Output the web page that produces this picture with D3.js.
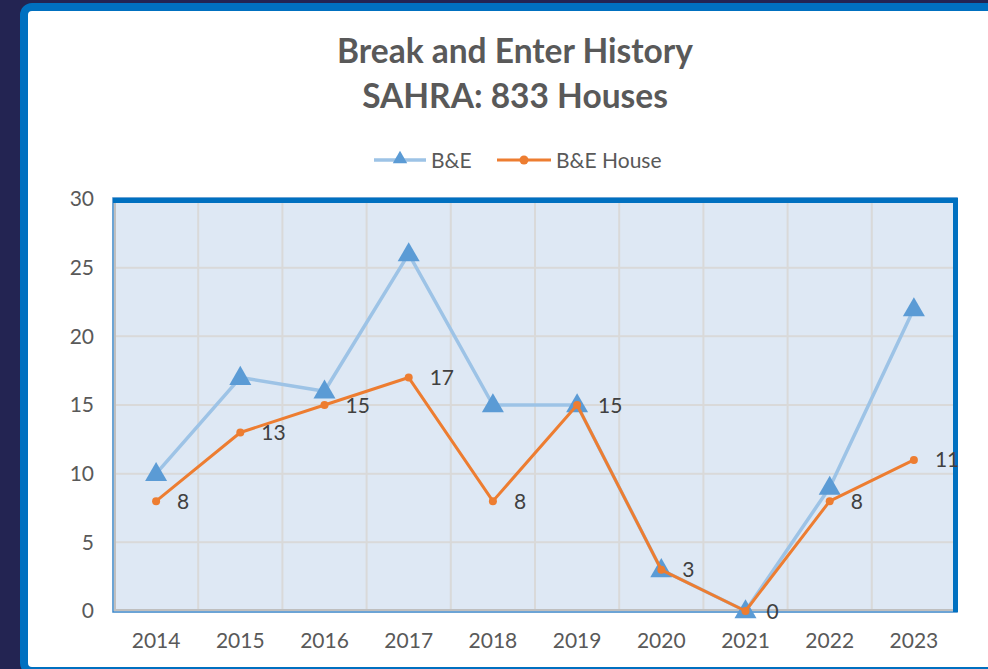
<!DOCTYPE html>
<html>
<head>
<meta charset="utf-8">
<script src="https://cdn.jsdelivr.net/npm/d3@7"></script>
<style>
  html, body { margin: 0; padding: 0; background: #232452; }
  svg { display: block; }
</style>
</head>
<body>
<div class="chart"></div>
<script>
// chart data
let years = ['2014', '2015', '2016', '2017', '2018', '2019', '2020', '2021', '2022', '2023'];
let breakEnter = [10, 17, 16, 26, 15, 15, 3, 0, 9, 22];
let breakEnterHouse = [8, 13, 15, 17, 8, 15, 3, 0, 8, 11];
let yTicks = [0, 5, 10, 15, 20, 25, 30];
let titleLines = ['Break and Enter History', 'SAHRA: 833 Houses'];
let seriesNames = ['B&E', 'B&E House'];

let config = {
  width: 988,
  height: 669,
  font: 'Lato, "Noto Sans", sans-serif',
  fontSize: '21px',
  textColor: '#595959',
  gridColor: '#D9D9D9',
  plotFill: '#DEE8F4',
  frameBlue: '#0070C0',
  lightBlue: '#9DC3E6',
  markerBlue: '#5B9BD5',
  orange: '#ED7D31'
}

let svg = d3.select('div.chart').append('svg')
  .attr('width', config.width)
  .attr('height', config.height);

// outer panel
svg.append('rect')
  .attr('x', 24).attr('y', 7)
  .attr('width', 1000).attr('height', 664)
  .attr('rx', 8)
  .attr('fill', '#fff')
  .attr('stroke', config.frameBlue)
  .attr('stroke-width', 8);

let plot = {left: 114, right: 956, top: 199, bottom: 611};

let x = d3.scaleBand()
  .domain(years)
  .range([plot.left, plot.right]);

let y = d3.scaleLinear()
  .domain([0, 30])
  .range([plot.bottom, plot.top]);

let cx = d => x(d) + x.bandwidth() / 2;

// plot background
svg.append('rect')
  .attr('x', plot.left).attr('y', plot.top)
  .attr('width', plot.right - plot.left).attr('height', plot.bottom - plot.top)
  .attr('fill', config.plotFill);

// grid
svg.append('g').selectAll('line')
  .data(yTicks.filter(d => d > 0 && d < 30))
  .enter().append('line')
  .attr('x1', plot.left).attr('x2', plot.right)
  .attr('y1', d => y(d)).attr('y2', d => y(d))
  .attr('stroke', config.gridColor)
  .attr('stroke-width', 2);

svg.append('g').selectAll('line')
  .data(years.slice(1))
  .enter().append('line')
  .attr('x1', d => x(d)).attr('x2', d => x(d))
  .attr('y1', plot.top).attr('y2', plot.bottom)
  .attr('stroke', config.gridColor)
  .attr('stroke-width', 2);

// plot frame: thin blue all round, grey axis lines, heavy blue top/right
svg.append('rect')
  .attr('x', plot.left - 1).attr('y', plot.top - 1)
  .attr('width', plot.right - plot.left + 2).attr('height', plot.bottom - plot.top + 2)
  .attr('fill', 'none')
  .attr('stroke', '#3C86C8')
  .attr('stroke-width', 1.5);

svg.append('path')
  .attr('d', 'M' + (plot.left + 1) + ',' + plot.top + 'V' + (plot.bottom - 1) + 'H' + plot.right)
  .attr('fill', 'none')
  .attr('stroke', '#BFBFBF')
  .attr('stroke-width', 2);

svg.append('path')
  .attr('d', 'M' + (plot.left - 1) + ',' + (plot.top + 1.5) + 'H' + (plot.right - 0.5) + 'V' + (plot.bottom + 1))
  .attr('fill', 'none')
  .attr('stroke', config.frameBlue)
  .attr('stroke-width', 5);

// axes
let yAxis = svg.append('g')
  .attr('transform', 'translate(' + (plot.left - 20) + ',0)')
  .call(d3.axisLeft(y).tickValues(yTicks).tickSize(0).tickPadding(0));
yAxis.select('.domain').remove();
yAxis.selectAll('text')
  .attr('font-family', config.font)
  .attr('font-size', config.fontSize)
  .attr('fill', config.textColor);

let xAxis = svg.append('g')
  .attr('transform', 'translate(0,' + (plot.bottom + 22) + ')')
  .call(d3.axisBottom(x).tickSize(0).tickPadding(0));
xAxis.select('.domain').remove();
xAxis.selectAll('text')
  .attr('font-family', config.font)
  .attr('font-size', config.fontSize)
  .attr('fill', config.textColor);

// lines
let line = d3.line()
  .x((d, i) => cx(years[i]))
  .y(d => y(d));

svg.append('path')
  .attr('d', line(breakEnter))
  .attr('fill', 'none')
  .attr('stroke', config.lightBlue)
  .attr('stroke-width', 3.5)
  .attr('stroke-linejoin', 'round');

let tri = d3.symbol().type(d3.symbolTriangle).size(210);

svg.append('g').selectAll('path')
  .data(breakEnter)
  .enter().append('path')
  .attr('d', tri)
  .attr('transform', (d, i) => 'translate(' + cx(years[i]) + ',' + (y(d) + 1) + ')')
  .attr('fill', config.markerBlue);

svg.append('path')
  .attr('d', line(breakEnterHouse))
  .attr('fill', 'none')
  .attr('stroke', config.orange)
  .attr('stroke-width', 3)
  .attr('stroke-linejoin', 'round');

svg.append('g').selectAll('circle')
  .data(breakEnterHouse)
  .enter().append('circle')
  .attr('cx', (d, i) => cx(years[i]))
  .attr('cy', d => y(d))
  .attr('r', 4)
  .attr('fill', config.orange);

// data labels
svg.append('g').selectAll('text')
  .data(breakEnterHouse)
  .enter().append('text')
  .attr('x', (d, i) => cx(years[i]) + 21)
  .attr('y', d => y(d))
  .attr('dy', '0.36em')
  .attr('font-family', config.font)
  .attr('font-size', config.fontSize)
  .attr('fill', '#404040')
  .text(d => d);

// title
svg.append('g').selectAll('text')
  .data(titleLines)
  .enter().append('text')
  .attr('x', 515)
  .attr('y', (d, i) => 63 + i * 45)
  .attr('text-anchor', 'middle')
  .attr('font-family', config.font)
  .attr('font-weight', 'bold')
  .attr('font-size', '33.5px')
  .attr('fill', config.textColor)
  .text(d => d);

// legend
let legend = svg.append('g').attr('font-family', config.font).attr('font-size', config.fontSize);

legend.append('line')
  .attr('x1', 374).attr('x2', 426).attr('y1', 160).attr('y2', 160)
  .attr('stroke', config.lightBlue).attr('stroke-width', 3.5);
legend.append('path')
  .attr('d', d3.symbol().type(d3.symbolTriangle).size(90))
  .attr('transform', 'translate(400,159)')
  .attr('fill', config.markerBlue);
legend.append('text')
  .attr('x', 431).attr('y', 160).attr('dy', '0.36em')
  .attr('fill', config.textColor)
  .text(seriesNames[0]);

legend.append('line')
  .attr('x1', 497).attr('x2', 551).attr('y1', 160).attr('y2', 160)
  .attr('stroke', config.orange).attr('stroke-width', 3);
legend.append('circle')
  .attr('cx', 524).attr('cy', 160).attr('r', 4.5)
  .attr('fill', config.orange);
legend.append('text')
  .attr('x', 556).attr('y', 160).attr('dy', '0.36em')
  .attr('fill', config.textColor)
  .text(seriesNames[1]);
</script>
</body>
</html>
